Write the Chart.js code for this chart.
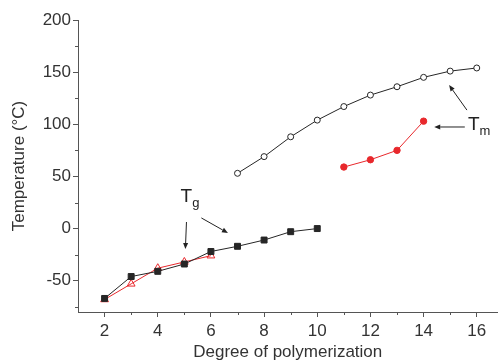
<!DOCTYPE html>
<html>
<head>
<meta charset="utf-8">
<script src="https://cdn.jsdelivr.net/npm/chart.js@4"></script>
<style>
  body { margin: 0; background: #fff; }
  canvas { display: block; }
</style>
</head>
<body>
<canvas id="tempChart" width="503" height="363"></canvas>
<script>
// Degree of polymerization vs temperature
const tgBlackX = [2, 3, 4, 5, 6, 7, 8, 9, 10];
const tgBlackY = [-67, -46, -41, -34, -22, -17, -11, -3, 0];
const tgRedX = [2, 3, 4, 5, 6];
const tgRedY = [-68, -53, -38, -32, -26];
const tmBlackX = [7, 8, 9, 10, 11, 12, 13, 14, 15, 16];
const tmBlackY = [53, 69, 88, 104, 117, 128, 136, 145, 151, 154];
const tmRedX = [11, 12, 13, 14];
const tmRedY = [59, 66, 75, 103];

const xTicks = [2, 4, 6, 8, 10, 12, 14, 16];
const xMinor = [3, 5, 7, 9, 11, 13, 15];
const yTicks = [-50, 0, 50, 100, 150, 200];
const yMinor = [-75, -25, 25, 75, 125, 175];

function pts(xs, ys) {
    return xs.map((x, i) => ({ x: x, y: ys[i] }));
}

const RED = '#e8282c';
const DARK = '#262626';
const AXIS = '#555';
const FONT = '"Liberation Sans", Arial, sans-serif';

// labels + arrows (positions in data units)
const notes = {
    texts: [
        { main: 'T', sub: 'm', x: 15.67, y: 94.5 },
        { main: 'T', sub: 'g', x: 4.86, y: 25.5 }
    ],
    arrows: [
        { x1: 15.63, y1: 113.6, x2: 14.96, y2: 137.6 },
        { x1: 15.55, y1: 97.4, x2: 14.40, y2: 97.4 },
        { x1: 5.08, y1: 6.3, x2: 5.04, y2: -19.6 },
        { x1: 5.64, y1: 10.2, x2: 6.64, y2: -4.2 }
    ]
};

const extras = {
    id: 'extras',
    afterDraw(chart) {
        const ctx = chart.ctx;
        const xs = chart.scales.x, ys = chart.scales.y;
        const area = chart.chartArea;
        ctx.save();
        // minor ticks
        ctx.strokeStyle = AXIS;
        ctx.lineWidth = 1;
        ctx.beginPath();
        xMinor.forEach(v => {
            const px = Math.round(xs.getPixelForValue(v)) + 0.5;
            ctx.moveTo(px, area.bottom);
            ctx.lineTo(px, area.bottom + 3);
        });
        yMinor.forEach(v => {
            const py = Math.round(ys.getPixelForValue(v)) + 0.5;
            ctx.moveTo(area.left, py);
            ctx.lineTo(area.left - 3, py);
        });
        ctx.stroke();

        // arrows
        ctx.strokeStyle = '#222';
        ctx.fillStyle = '#222';
        notes.arrows.forEach(a => {
            const x1 = xs.getPixelForValue(a.x1), y1 = ys.getPixelForValue(a.y1);
            const x2 = xs.getPixelForValue(a.x2), y2 = ys.getPixelForValue(a.y2);
            const ang = Math.atan2(y2 - y1, x2 - x1);
            const hl = 6, hw = 2.5;
            ctx.beginPath();
            ctx.moveTo(x1, y1);
            ctx.lineTo(x2 - Math.cos(ang) * hl, y2 - Math.sin(ang) * hl);
            ctx.stroke();
            ctx.beginPath();
            ctx.moveTo(x2, y2);
            ctx.lineTo(x2 - Math.cos(ang) * hl - Math.sin(ang) * hw, y2 - Math.sin(ang) * hl + Math.cos(ang) * hw);
            ctx.lineTo(x2 - Math.cos(ang) * hl + Math.sin(ang) * hw, y2 - Math.sin(ang) * hl - Math.cos(ang) * hw);
            ctx.closePath();
            ctx.fill();
        });

        // T_m / T_g labels
        ctx.fillStyle = '#222';
        ctx.textBaseline = 'alphabetic';
        ctx.textAlign = 'left';
        notes.texts.forEach(t => {
            const px = xs.getPixelForValue(t.x), py = ys.getPixelForValue(t.y);
            ctx.font = '19px ' + FONT;
            ctx.fillText(t.main, px, py);
            const w = ctx.measureText(t.main).width;
            ctx.font = '13px ' + FONT;
            ctx.fillText(t.sub, px + w, py + 5);
        });
        ctx.restore();
    }
};

const ctx = document.getElementById('tempChart').getContext('2d');
const tempChart = new Chart(ctx, {
    type: 'line',
    data: {
        datasets: [
            {
                label: 'Tg (black)',
                data: pts(tgBlackX, tgBlackY),
                borderColor: DARK,
                backgroundColor: DARK,
                borderWidth: 1,
                pointStyle: 'rect',
                pointRadius: 4.2,
                pointBorderWidth: 1
            },
            {
                label: 'Tg (red)',
                data: pts(tgRedX, tgRedY),
                borderColor: RED,
                backgroundColor: 'rgba(255,255,255,0)',
                borderWidth: 1,
                pointStyle: 'triangle',
                pointRadius: 4.5,
                pointBorderWidth: 1
            },
            {
                label: 'Tm (black)',
                data: pts(tmBlackX, tmBlackY),
                borderColor: DARK,
                backgroundColor: '#fff',
                borderWidth: 1,
                pointStyle: 'circle',
                pointRadius: 3,
                pointBorderWidth: 1
            },
            {
                label: 'Tm (red)',
                data: pts(tmRedX, tmRedY),
                borderColor: RED,
                backgroundColor: RED,
                borderWidth: 1,
                pointStyle: 'circle',
                pointRadius: 3.2,
                pointBorderWidth: 1
            }
        ]
    },
    options: {
        responsive: false,
        animation: false,
        layout: { padding: { top: 20, right: 0, left: 0, bottom: 0 } },
        plugins: {
            legend: { display: false },
            tooltip: { enabled: false }
        },
        scales: {
            x: {
                type: 'linear',
                min: 1,
                max: 16.78,
                afterBuildTicks: s => { s.ticks = xTicks.map(v => ({ value: v })); },
                afterFit: s => { s.height = 51; },
                border: { color: AXIS, width: 1 },
                grid: { drawOnChartArea: false, tickLength: 5, color: AXIS },
                ticks: {
                    color: '#333',
                    padding: 4,
                    maxRotation: 0,
                    font: { family: FONT, size: 17 }
                },
                title: {
                    display: true,
                    text: 'Degree of polymerization',
                    color: '#333',
                    padding: { top: 3, bottom: 0 },
                    font: { family: FONT, size: 17 }
                }
            },
            y: {
                type: 'linear',
                min: -80,
                max: 200,
                afterBuildTicks: s => { s.ticks = yTicks.map(v => ({ value: v })); },
                afterFit: s => { s.width = 78; },
                border: { color: AXIS, width: 1 },
                grid: { drawOnChartArea: false, tickLength: 5, color: AXIS },
                ticks: {
                    color: '#333',
                    padding: 2,
                    font: { family: FONT, size: 17 }
                },
                title: {
                    display: true,
                    text: 'Temperature (°C)',
                    color: '#333',
                    padding: { top: 9, bottom: 0 },
                    font: { family: FONT, size: 17 }
                }
            }
        }
    },
    plugins: [extras]
});
</script>
</body>
</html>
